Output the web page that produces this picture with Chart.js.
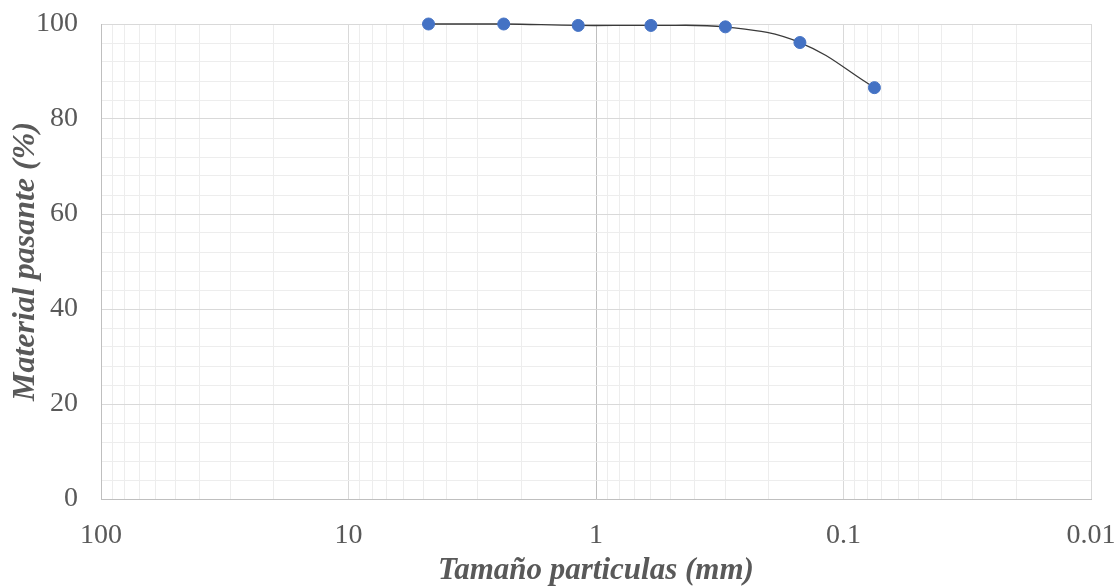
<!DOCTYPE html>
<html>
<head>
<meta charset="utf-8">
<script src="https://cdn.jsdelivr.net/npm/chart.js@4/dist/chart.umd.min.js"></script>
<style>
  html, body { margin: 0; padding: 0; background: #ffffff; }
  #wrap { width: 1120px; height: 588px; position: relative; }
</style>
</head>
<body>
<div id="wrap"><canvas id="c"></canvas></div>
<script>
// Sieve sizes (mm) and percent passing
const sizes = [4.75, 2.36, 1.18, 0.6, 0.3, 0.15, 0.075];
const passing = [100, 100, 99.7, 99.7, 99.4, 96.1, 86.6];

// Axis tick labels
const xTickValues = [100, 10, 1, 0.1, 0.01];
const xTickLabels = ['100', '10', '1', '0.1', '0.01'];
const xDecades = [0.01, 0.1, 1, 10];
const xMultipliers = [1, 2, 3, 4, 5, 6, 7, 8, 9];
const yTickLabels = ['0', '20', '40', '60', '80', '100'];

const xTitle = 'Tamaño particulas (mm)';
const yTitle = 'Material pasante (%)';

const FONT = "'Liberation Serif', 'Times New Roman', serif";
const TXT = '#595959';

function isDecade(v) {
  const l = Math.log10(v);
  return Math.abs(l - Math.round(l)) < 1e-6;
}

const data = {
  datasets: [{
    data: sizes.map((s, i) => ({ x: s, y: passing[i] })),
    borderColor: '#3a3a3a',
    borderWidth: 1.3,
    tension: 0.4,
    pointRadius: 6,
    pointHoverRadius: 6,
    pointBackgroundColor: '#4472C4',
    pointBorderColor: '#4472C4',
    pointBorderWidth: 1,
    fill: false,
    clip: false
  }]
};

new Chart(document.getElementById('c'), {
  type: 'line',
  data: data,
  options: {
    responsive: true,
    maintainAspectRatio: false,
    animation: false,
    layout: { autoPadding: false, padding: { left: 0, right: 29, top: 24, bottom: 0 } },
    plugins: { legend: { display: false }, tooltip: { enabled: false } },
    scales: {
      x: {
        type: 'logarithmic',
        position: 'bottom',
        reverse: true,
        min: 0.01,
        max: 100,
        afterBuildTicks: (scale) => {
          const t = [];
          xDecades.forEach(d => xMultipliers.forEach(m => {
            const v = Number((m * d).toPrecision(6));
            t.push({ value: v, major: m === 1 });
          }));
          t.push({ value: xTickValues[0], major: true });
          scale.ticks = t.reverse();
        },
        afterFit: (scale) => {
          scale.height = 89;
          scale.paddingLeft = 0;
          scale.paddingRight = 0;
        },
        ticks: {
          autoSkip: false,
          minRotation: 0,
          maxRotation: 0,
          padding: 20,
          color: TXT,
          font: { family: FONT, size: 28 },
          callback: (v) => {
            for (let i = 0; i < xTickValues.length; i++) {
              if (Math.abs(Math.log10(v) - Math.log10(xTickValues[i])) < 1e-6) return xTickLabels[i];
            }
            return '';
          }
        },
        grid: {
          drawTicks: false,
          lineWidth: 1,
          color: (ctx) => {
            const v = ctx.tick ? ctx.tick.value : 0;
            if (Math.abs(v - 1) < 1e-9) return '#bfbfbf';
            return isDecade(v) ? '#d9d9d9' : '#ededed';
          }
        },
        border: { color: '#bfbfbf', width: 1 },
        title: {
          display: true,
          text: xTitle,
          color: TXT,
          padding: { top: 0, bottom: 0 },
          font: { family: FONT, size: 31, weight: 'bold', style: 'italic', lineHeight: 1.1 }
        }
      },
      y: {
        type: 'linear',
        position: 'left',
        min: 0,
        max: 100,
        afterFit: (scale) => {
          scale.width = 101;
          scale.paddingTop = 0;
          scale.paddingBottom = 0;
        },
        ticks: {
          stepSize: 4,
          autoSkip: false,
          padding: 23,
          color: TXT,
          font: { family: FONT, size: 28 },
          callback: (v) => {
            const idx = yTickLabels.indexOf(String(v));
            return idx >= 0 ? yTickLabels[idx] : '';
          }
        },
        grid: {
          drawTicks: false,
          lineWidth: 1,
          color: (ctx) => {
            const v = ctx.tick ? ctx.tick.value : 0;
            return (v % 20 === 0) ? '#d9d9d9' : '#ededed';
          }
        },
        border: { color: '#bfbfbf', width: 1 },
        title: {
          display: true,
          text: yTitle,
          color: TXT,
          padding: { top: 8, bottom: 0 },
          font: { family: FONT, size: 32, weight: 'bold', style: 'italic', lineHeight: 1.1 }
        }
      }
    }
  }
});
</script>
</body>
</html>
